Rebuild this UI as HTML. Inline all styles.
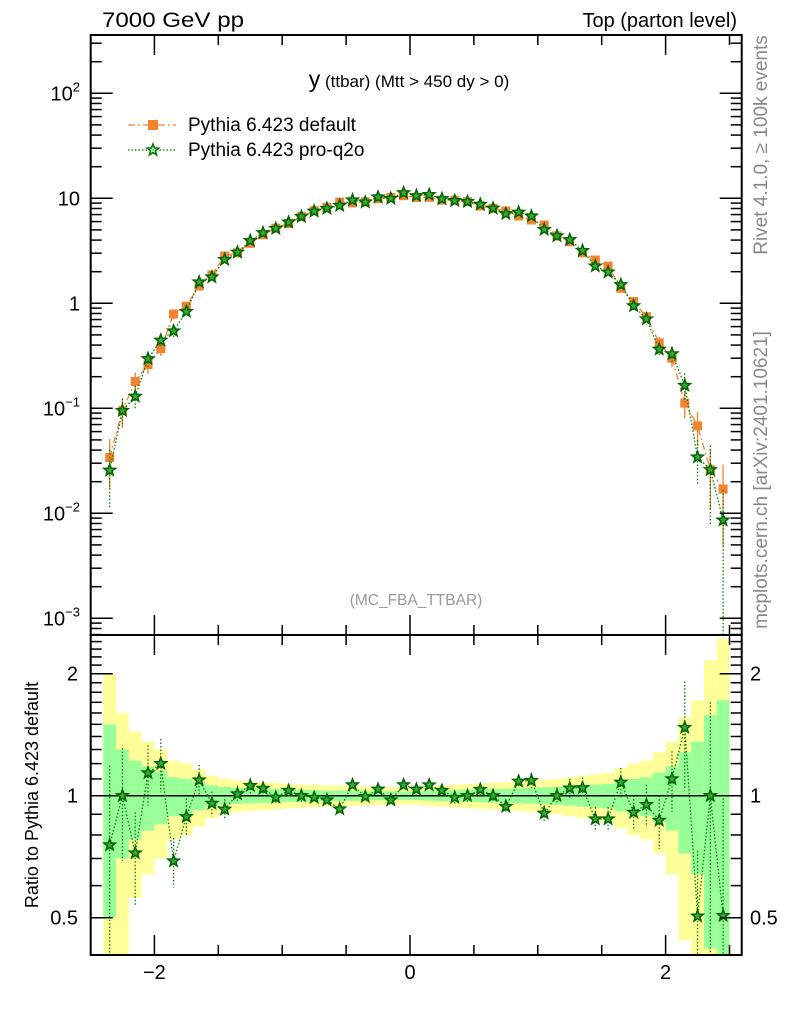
<!DOCTYPE html>
<html><head><meta charset="utf-8"><style>
html,body{margin:0;padding:0;background:#fff;}
svg{display:block;font-family:"Liberation Sans",sans-serif;}
</style></head><body>
<svg id="c" width="786" height="1024" viewBox="0 0 786 1024" xmlns="http://www.w3.org/2000/svg">
<g id="bands"></g>
<g id="marks"></g>
<g id="axes"></g>
<text x="102" y="27" font-size="21" textLength="142" lengthAdjust="spacingAndGlyphs">7000 GeV pp</text>
<text x="737" y="27" font-size="20" text-anchor="end">Top (parton level)</text>
<text x="409" y="87" text-anchor="middle"><tspan font-size="23">y</tspan><tspan font-size="17"> (ttbar) (Mtt &gt; 450 dy &gt; 0)</tspan></text>
<g>
<g>
<line x1="128" y1="125" x2="176" y2="125" stroke="#f58231" stroke-width="1.3" stroke-dasharray="7,3,2,3"/>
<rect x="148" y="120" width="10" height="10" fill="#f58231"/>
<text x="188" y="131" font-size="19">Pythia 6.423 default</text></g>
<g>
<line x1="128" y1="150" x2="176" y2="150" stroke="#008000" stroke-width="1.3" stroke-dasharray="1.5,2"/>
<path id="legstar" d="" fill="none" stroke="#008000" stroke-width="1.6"/>
<text x="188" y="156" font-size="19">Pythia 6.423 pro-q2o</text></g>
</g>
<text x="416" y="605" font-size="15.5" fill="#999" text-anchor="middle">(MC_FBA_TTBAR)</text>
<text transform="translate(767,145) rotate(-90)" font-size="19" fill="#888" text-anchor="middle">Rivet 4.1.0, ≥ 100k events</text>
<text transform="translate(767,480) rotate(-90)" font-size="19" fill="#888" text-anchor="middle">mcplots.cern.ch [arXiv:2401.10621]</text>
<text transform="translate(38,795) rotate(-90)" font-size="18" text-anchor="middle">Ratio to Pythia 6.423 default</text>
</svg>
<script>
const binLo = -2.4, binW = 0.1;
const defaultVals = [0.034,0.095,0.18,0.26,0.37,0.79,0.94,1.46,1.86,2.82,3.03,3.73,4.5,5.2,5.75,6.7,7.6,8.2,9.2,9.05,9.25,9.9,10.2,10.6,10.2,10.2,9.6,9.6,9.3,8.45,8.03,7.57,6.78,6.21,5.57,4.38,3.86,3.03,2.58,2.26,1.39,1.04,0.746,0.42,0.30,0.112,0.068,0.026,0.017];
const defaultRelErr = [0.5,0.3,0.22,0.18,0.15,0.11,0.1,0.08,0.06,0.05,0.045,0.042,0.04,0.038,0.035,0.033,0.032,0.03,0.03,0.028,0.027,0.026,0.025,0.025,0.025,0.028,0.03,0.032,0.034,0.036,0.038,0.04,0.042,0.045,0.048,0.05,0.055,0.06,0.065,0.07,0.085,0.1,0.11,0.14,0.18,0.28,0.36,0.58,0.72];
const proVals = [0.0257,0.095,0.13,0.296,0.444,0.545,0.834,1.596,1.78,2.61,3.06,3.95,4.69,5.15,5.92,6.7,7.52,8.0,8.53,9.62,9.2,10.27,9.95,11.27,10.58,10.84,9.89,9.5,9.3,8.75,8.03,7.12,7.36,6.77,5.04,4.38,4.03,3.17,2.26,1.98,1.50,0.946,0.709,0.365,0.33,0.165,0.0343,0.026,0.0086];
const proRelErr = [0.57,0.31,0.26,0.17,0.15,0.14,0.11,0.09,0.07,0.06,0.05,0.045,0.04,0.04,0.035,0.035,0.03,0.03,0.03,0.03,0.03,0.03,0.03,0.03,0.03,0.03,0.03,0.035,0.035,0.035,0.04,0.04,0.04,0.045,0.045,0.05,0.055,0.06,0.07,0.07,0.085,0.1,0.12,0.15,0.17,0.3,0.45,0.7,0.95];
const mainTickLabels = ["10^2","10","1","10^-1","10^-2","10^-3"];
const ratioTickVals = [0.5,1,2];

const NS="http://www.w3.org/2000/svg";
const L=90.7,R=741.7,T=35,MB=635,B=955;
const X=v=>410+127.8*v;
const Y=v=>303.3-105*Math.log10(v);
const YR=r=>795.7-405.3*Math.log10(r);
const cl=(v,a,b)=>Math.max(a,Math.min(b,v));
function mk(tag,attrs,parent){const e=document.createElementNS(NS,tag);for(const k in attrs)e.setAttribute(k,attrs[k]);parent.appendChild(e);return e;}
function star(cx,cy,r){let d="";for(let i=0;i<10;i++){const a=-Math.PI/2+i*Math.PI/5;const rr=i%2?r*0.42:r;d+=(i?"L":"M")+(cx+rr*Math.cos(a)).toFixed(2)+","+(cy+rr*Math.sin(a)).toFixed(2);}return d+"Z";}
document.getElementById('legstar').setAttribute('d',star(153,150,6));

const bands=document.getElementById('bands'),marks=document.getElementById('marks'),axes=document.getElementById('axes');
for(let i=0;i<defaultVals.length;i++){
  const x0=X(binLo+i*binW),x1=X(binLo+(i+1)*binW),e=defaultRelErr[i];
  const yt=cl(YR(1+2*e),MB,B),yb=1-2*e>0?cl(YR(1-2*e),MB,B):B;
  const r1=mk('rect',{x:x0,y:yt,width:x1-x0,height:yb-yt,fill:'#ffff99'},bands);
  
  
  const gt=cl(YR(1+e),MB,B),gb=1-e>0?cl(YR(1-e),MB,B):B;
  const r2=mk('rect',{x:x0,y:gt,width:x1-x0,height:gb-gt,fill:'#99ff99'},bands);
  
  
}
function series(vals,errs,color,dash,isStar,name){
  const g=mk('g',{},marks);
  
  
  let pts=[];
  vals.forEach((v,i)=>{
    const cx=X(binLo+(i+0.5)*binW),cy=Y(v);pts.push(cx+","+cy);
    const lo=v*(1-errs[i]),hi=v*(1+errs[i]);
    const y1=cl(Y(hi),T,MB),y2=lo>0?cl(Y(lo),T,MB):MB;
    mk('line',{x1:cx,x2:cx,y1:y1,y2:y2,stroke:color,'stroke-width':1.3,'stroke-dasharray':isStar?'1.5,2':'none'},g);
  });
  mk('polyline',{points:pts.join(' '),fill:'none',stroke:color,'stroke-width':1.3,'stroke-dasharray':dash},g);
  vals.forEach((v,i)=>{
    const cx=X(binLo+(i+0.5)*binW),cy=Y(v);
    let m;
    if(isStar) m=mk('path',{d:star(cx,cy,6),fill:'#3aa83a',stroke:'#006400','stroke-width':1.5},g);
    else m=mk('rect',{x:cx-4.5,y:cy-4.5,width:9,height:9,fill:'#f58231'},g);
    
    
  });
}
series(defaultVals,defaultRelErr,'#f58231','7,3,2,3',false,'series-default');
series(proVals,proRelErr,'#008000','1.5,2',true,'series-pro-q2o');
mk('line',{x1:L,x2:R,y1:YR(1),y2:YR(1),stroke:'#000','stroke-width':1.5},marks);
const rg=mk('g',{},marks);


let rp=[];
proVals.forEach((v,i)=>{
  const r=v/defaultVals[i],cx=X(binLo+(i+0.5)*binW);
  const hi=r*(1+proRelErr[i]),lo=r*(1-proRelErr[i]);
  mk('line',{x1:cx,x2:cx,y1:cl(YR(hi),MB,B),y2:lo>0?cl(YR(lo),MB,B):B,stroke:'#008000','stroke-width':1.3,'stroke-dasharray':'1.5,2'},rg);
  rp.push(cx+","+YR(r));
});
mk('polyline',{points:rp.join(' '),fill:'none',stroke:'#008000','stroke-width':1.3,'stroke-dasharray':'1.5,2'},rg);
proVals.forEach((v,i)=>{
  const r=v/defaultVals[i],cx=X(binLo+(i+0.5)*binW);
  const s=mk('path',{d:star(cx,YR(r),6),fill:'#3aa83a',stroke:'#006400','stroke-width':1.5},rg);
  
  
});
mk('rect',{x:L,y:T,width:R-L,height:MB-T,fill:'none',stroke:'#000','stroke-width':2},axes);
mk('rect',{x:L,y:MB,width:R-L,height:B-MB,fill:'none',stroke:'#000','stroke-width':2},axes);
for(let k=-5;k<=5;k++){
  const v=k*0.5,x=X(v);if(x<L||x>R)continue;
  const big=(k%4===0);const len=big?20:10;
  [[T,1],[MB,-1],[MB,1],[B,-1]].forEach(([y0,d])=>mk('line',{x1:x,x2:x,y1:y0,y2:y0+d*len,stroke:'#000','stroke-width':1.5},axes));
  if(big){const t=mk('text',{x:x,y:979,'font-size':20,'text-anchor':'middle'},axes);t.textContent=v<0?"−"+(-v):String(v);
    
    }
}
for(let dec=-4;dec<=2;dec++){
  for(let m=1;m<10;m++){
    const y=Y(m*Math.pow(10,dec));if(y<T||y>MB)continue;
    const len=m===1?22:11;
    mk('line',{x1:L,x2:L+len,y1:y,y2:y,stroke:'#000','stroke-width':1.5},axes);
    mk('line',{x1:R,x2:R-len,y1:y,y2:y,stroke:'#000','stroke-width':1.5},axes);
  }
}
mainTickLabels.forEach((lab,i)=>{
  const dec=2-i,y=Y(Math.pow(10,dec));
  const t=mk('text',{x:80,y:y+7,'font-size':20,'text-anchor':'end'},axes);
  
  
  if(lab.indexOf('^')>0){const p=lab.split('^');t.textContent=p[0];const s=mk('tspan',{dy:-9,'font-size':13},t);s.textContent=p[1].replace('-','−');}
  else t.textContent=lab;
});
for(let v=0.4;v<=2.55;v+=0.1){
  const vv=Math.round(v*10)/10;
  const y=YR(vv);if(y<MB||y>B)continue;
  const big=ratioTickVals.indexOf(vv)>=0;const len=big?22:11;
  mk('line',{x1:L,x2:L+len,y1:y,y2:y,stroke:'#000','stroke-width':1.5},axes);
  mk('line',{x1:R,x2:R-len,y1:y,y2:y,stroke:'#000','stroke-width':1.5},axes);
}
ratioTickVals.forEach(v=>{
  const y=YR(v);
  const t1=mk('text',{x:78,y:y+7,'font-size':20,'text-anchor':'end'},axes);t1.textContent=String(v);
  
  
  const t2=mk('text',{x:750,y:y+7,'font-size':20},axes);t2.textContent=String(v);
  
  
});
</script>
</body></html>
